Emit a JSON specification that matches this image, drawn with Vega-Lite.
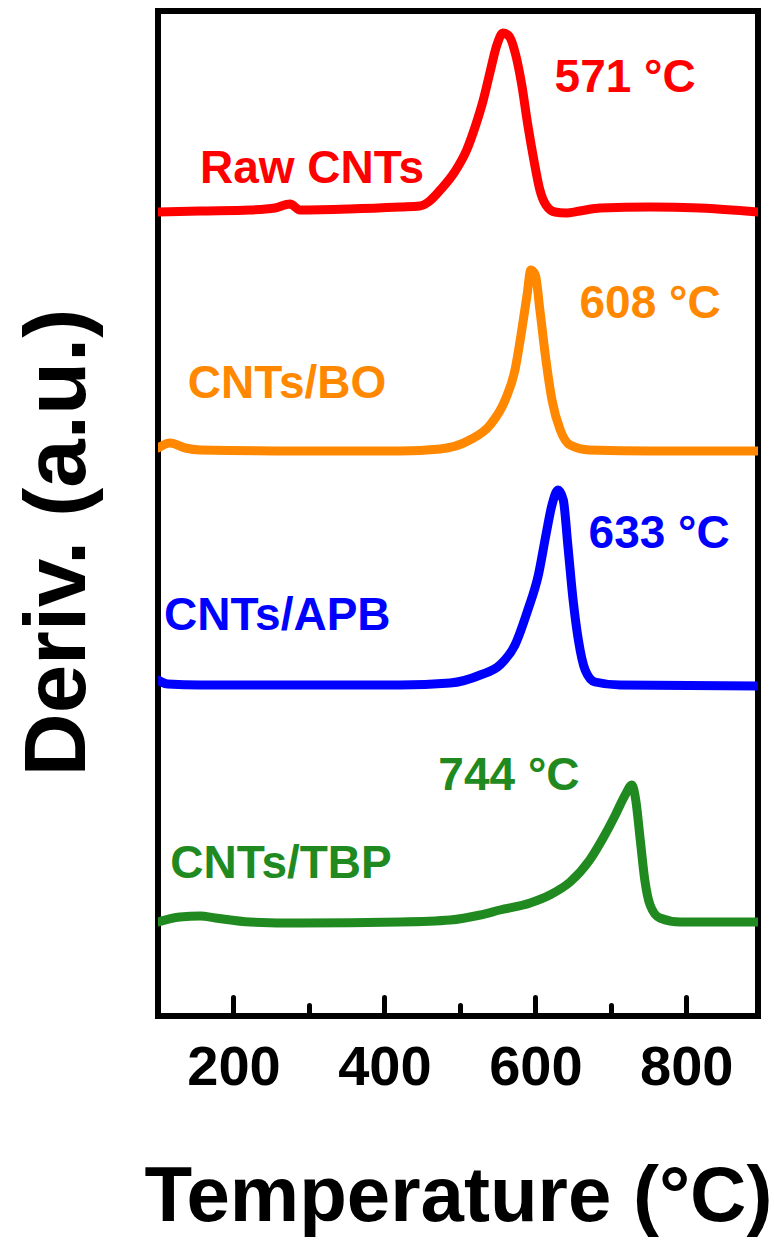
{
  "$schema": "https://vega.github.io/schema/vega-lite/v6.json",
  "width": 600,
  "height": 1005,
  "autosize": "none",
  "padding": {"left": 158, "top": 11, "right": 16, "bottom": 228},
  "background": "white",
  "config": {"view": {"stroke": "black", "strokeWidth": 6}, "font": "Liberation Sans"},
  "datasets": {
    "curves": [
      {"s": "Raw CNTs", "T": 100, "v": 804}, {"s": "Raw CNTs", "T": 156, "v": 805}, {"s": "Raw CNTs", "T": 222, "v": 806}, {"s": "Raw CNTs", "T": 255, "v": 808}, {"s": "Raw CNTs", "T": 275, "v": 812}, {"s": "Raw CNTs", "T": 288, "v": 806}, {"s": "Raw CNTs", "T": 354, "v": 807}, {"s": "Raw CNTs", "T": 421, "v": 809}, {"s": "Raw CNTs", "T": 447, "v": 810}, {"s": "Raw CNTs", "T": 460, "v": 815}, {"s": "Raw CNTs", "T": 474, "v": 826}, {"s": "Raw CNTs", "T": 493, "v": 844}, {"s": "Raw CNTs", "T": 509, "v": 866}, {"s": "Raw CNTs", "T": 521, "v": 891}, {"s": "Raw CNTs", "T": 531, "v": 916}, {"s": "Raw CNTs", "T": 540, "v": 944}, {"s": "Raw CNTs", "T": 549, "v": 971}, {"s": "Raw CNTs", "T": 557, "v": 983}, {"s": "Raw CNTs", "T": 565, "v": 980}, {"s": "Raw CNTs", "T": 574, "v": 961}, {"s": "Raw CNTs", "T": 582, "v": 931}, {"s": "Raw CNTs", "T": 590, "v": 891}, {"s": "Raw CNTs", "T": 598, "v": 856}, {"s": "Raw CNTs", "T": 606, "v": 826}, {"s": "Raw CNTs", "T": 614, "v": 811}, {"s": "Raw CNTs", "T": 626, "v": 804}, {"s": "Raw CNTs", "T": 640, "v": 803}, {"s": "Raw CNTs", "T": 659, "v": 805}, {"s": "Raw CNTs", "T": 686, "v": 808}, {"s": "Raw CNTs", "T": 752, "v": 809}, {"s": "Raw CNTs", "T": 818, "v": 808}, {"s": "Raw CNTs", "T": 895, "v": 804},
      {"s": "CNTs/BO", "T": 100, "v": 568}, {"s": "CNTs/BO", "T": 116, "v": 573}, {"s": "CNTs/BO", "T": 136, "v": 568}, {"s": "CNTs/BO", "T": 156, "v": 566}, {"s": "CNTs/BO", "T": 288, "v": 565}, {"s": "CNTs/BO", "T": 421, "v": 565}, {"s": "CNTs/BO", "T": 474, "v": 567}, {"s": "CNTs/BO", "T": 513, "v": 576}, {"s": "CNTs/BO", "T": 540, "v": 591}, {"s": "CNTs/BO", "T": 560, "v": 616}, {"s": "CNTs/BO", "T": 573, "v": 646}, {"s": "CNTs/BO", "T": 582, "v": 686}, {"s": "CNTs/BO", "T": 589, "v": 721}, {"s": "CNTs/BO", "T": 594, "v": 746}, {"s": "CNTs/BO", "T": 600, "v": 741}, {"s": "CNTs/BO", "T": 606, "v": 706}, {"s": "CNTs/BO", "T": 614, "v": 656}, {"s": "CNTs/BO", "T": 622, "v": 616}, {"s": "CNTs/BO", "T": 633, "v": 586}, {"s": "CNTs/BO", "T": 646, "v": 571}, {"s": "CNTs/BO", "T": 672, "v": 566}, {"s": "CNTs/BO", "T": 752, "v": 565}, {"s": "CNTs/BO", "T": 895, "v": 565},
      {"s": "CNTs/APB", "T": 100, "v": 336}, {"s": "CNTs/APB", "T": 113, "v": 332}, {"s": "CNTs/APB", "T": 156, "v": 331}, {"s": "CNTs/APB", "T": 288, "v": 331}, {"s": "CNTs/APB", "T": 421, "v": 331}, {"s": "CNTs/APB", "T": 487, "v": 333}, {"s": "CNTs/APB", "T": 527, "v": 341}, {"s": "CNTs/APB", "T": 553, "v": 351}, {"s": "CNTs/APB", "T": 573, "v": 371}, {"s": "CNTs/APB", "T": 590, "v": 406}, {"s": "CNTs/APB", "T": 604, "v": 441}, {"s": "CNTs/APB", "T": 614, "v": 481}, {"s": "CNTs/APB", "T": 622, "v": 511}, {"s": "CNTs/APB", "T": 630, "v": 526}, {"s": "CNTs/APB", "T": 637, "v": 516}, {"s": "CNTs/APB", "T": 643, "v": 471}, {"s": "CNTs/APB", "T": 650, "v": 416}, {"s": "CNTs/APB", "T": 657, "v": 376}, {"s": "CNTs/APB", "T": 666, "v": 346}, {"s": "CNTs/APB", "T": 679, "v": 334}, {"s": "CNTs/APB", "T": 712, "v": 331}, {"s": "CNTs/APB", "T": 895, "v": 330},
      {"s": "CNTs/TBP", "T": 100, "v": 94}, {"s": "CNTs/TBP", "T": 129, "v": 99}, {"s": "CNTs/TBP", "T": 156, "v": 100}, {"s": "CNTs/TBP", "T": 176, "v": 98}, {"s": "CNTs/TBP", "T": 222, "v": 94}, {"s": "CNTs/TBP", "T": 288, "v": 93}, {"s": "CNTs/TBP", "T": 421, "v": 94}, {"s": "CNTs/TBP", "T": 487, "v": 96}, {"s": "CNTs/TBP", "T": 527, "v": 101}, {"s": "CNTs/TBP", "T": 553, "v": 106}, {"s": "CNTs/TBP", "T": 593, "v": 113}, {"s": "CNTs/TBP", "T": 619, "v": 121}, {"s": "CNTs/TBP", "T": 646, "v": 134}, {"s": "CNTs/TBP", "T": 672, "v": 156}, {"s": "CNTs/TBP", "T": 692, "v": 181}, {"s": "CNTs/TBP", "T": 706, "v": 201}, {"s": "CNTs/TBP", "T": 719, "v": 221}, {"s": "CNTs/TBP", "T": 728, "v": 231}, {"s": "CNTs/TBP", "T": 733, "v": 216}, {"s": "CNTs/TBP", "T": 739, "v": 176}, {"s": "CNTs/TBP", "T": 745, "v": 136}, {"s": "CNTs/TBP", "T": 752, "v": 111}, {"s": "CNTs/TBP", "T": 765, "v": 98}, {"s": "CNTs/TBP", "T": 792, "v": 94}, {"s": "CNTs/TBP", "T": 895, "v": 94}
    ],
    "labels": [
      {"s": "Raw CNTs", "T": 304, "v": 833, "label": "Raw CNTs"},
      {"s": "Raw CNTs", "T": 719, "v": 924, "label": "571 °C"},
      {"s": "CNTs/BO", "T": 752, "v": 698, "label": "608 °C"},
      {"s": "CNTs/BO", "T": 271, "v": 618, "label": "CNTs/BO"},
      {"s": "CNTs/APB", "T": 764, "v": 468, "label": "633 °C"},
      {"s": "CNTs/APB", "T": 258, "v": 386, "label": "CNTs/APB"},
      {"s": "CNTs/TBP", "T": 565, "v": 226, "label": "744 °C"},
      {"s": "CNTs/TBP", "T": 263, "v": 138, "label": "CNTs/TBP"}
    ]
  },
  "layer": [
    {
      "data": {"name": "curves"},
      "mark": {"type": "line", "strokeWidth": 9, "strokeCap": "round", "strokeJoin": "round", "clip": true, "interpolate": "monotone"},
      "encoding": {
        "x": {"field": "T", "type": "quantitative", "scale": {"domain": [100, 895], "nice": false, "zero": false},
          "axis": {"values": [200, 400, 600, 800], "orient": "bottom", "domain": false, "grid": false,
            "tickSize": -19, "tickWidth": 5, "tickColor": "black", "tickCap": "round",
            "labelFontSize": 56, "labelFont": "Liberation Sans", "labelFontWeight": "bold", "labelColor": "black",
            "labelBaseline": "alphabetic", "labelPadding": 87,
            "title": "Temperature (°C)", "titleFontSize": 78, "titleFont": "Liberation Sans", "titleFontWeight": "bold", "titleColor": "black",
            "titleBaseline": "alphabetic", "titleY": 204, "titleX": 300, "titleAlign": "center"}},
        "y": {"field": "v", "type": "quantitative", "scale": {"domain": [0, 1005], "nice": false, "zero": false},
          "axis": {"domain": false, "ticks": false, "labels": false, "grid": false,
            "title": "Deriv. (a.u.)", "titleFontSize": 87, "titleFont": "Liberation Sans", "titleFontWeight": "bold", "titleColor": "black",
            "titleX": -74, "titleY": 531, "titleBaseline": "alphabetic", "titleAlign": "center", "titleAngle": 270}},
        "color": {"field": "s", "type": "nominal",
          "scale": {"domain": ["Raw CNTs", "CNTs/BO", "CNTs/APB", "CNTs/TBP"], "range": ["#ff0000", "#ff8800", "#0000ff", "#208a20"]},
          "legend": null}
      }
    },
    {
      "data": {"name": "labels"},
      "mark": {"type": "text", "fontSize": 46, "fontWeight": "bold", "font": "Liberation Sans", "baseline": "alphabetic", "align": "center"},
      "encoding": {
        "x": {"field": "T", "type": "quantitative",
          "axis": {"values": [300, 500, 700], "orient": "bottom", "domain": false, "grid": false, "labels": false, "title": null,
            "tickSize": -11, "tickWidth": 5, "tickColor": "black", "tickCap": "round"}},
        "y": {"field": "v", "type": "quantitative", "axis": null},
        "text": {"field": "label", "type": "nominal"},
        "color": {"field": "s", "type": "nominal", "legend": null}
      }
    }
  ],
  "resolve": {"axis": {"x": "independent", "y": "independent"}}
}
